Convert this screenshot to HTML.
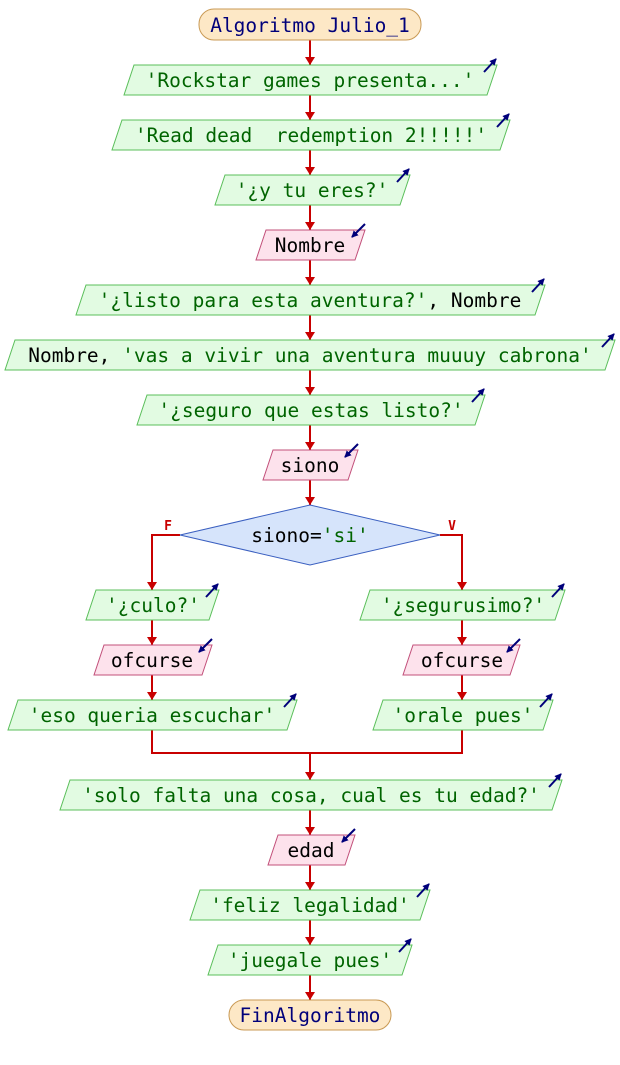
<!DOCTYPE html>
<html><head><meta charset="utf-8"><style>
html,body{margin:0;padding:0;background:#fff;width:620px;height:1065px;overflow:hidden}
text{font-family:"DejaVu Sans Mono","Liberation Mono",monospace;font-size:19.5px;text-anchor:middle}
.s{fill:#006400}.v{fill:#000}.k{fill:#00007a}
.o{fill:#e2fbe2;stroke:#5bbf5b;stroke-width:1}
.i{fill:#fde2ec;stroke:#c2507a;stroke-width:1}
.l{stroke:#c80000;stroke-width:2;fill:none}
.h{fill:#c80000}
.ic{stroke:#00007a;stroke-width:2;fill:none}
</style></head><body>
<svg width="620" height="1065" xmlns="http://www.w3.org/2000/svg">
<defs>
<marker id="ah" markerWidth="7" markerHeight="7" refX="6" refY="3.5" orient="auto" markerUnits="userSpaceOnUse"><path d="M0,0 L7,3.5 L0,7 z" fill="#00007a"/></marker>
</defs>
<path class="l" d="M310,40V505 M310,753V1000"/>
<path class="l" d="M180,535H152V590 M440,535H462V590 M152,620V700 M462,620V700 M152,730V753H462V730"/>
<g class="h">
<path d="M305,57h10l-5,8z"/><path d="M305,112h10l-5,8z"/><path d="M305,167h10l-5,8z"/><path d="M305,222h10l-5,8z"/><path d="M305,277h10l-5,8z"/><path d="M305,332h10l-5,8z"/><path d="M305,387h10l-5,8z"/><path d="M305,442h10l-5,8z"/><path d="M305,497h10l-5,8z"/>
<path d="M147,582h10l-5,8z"/><path d="M147,637h10l-5,8z"/><path d="M147,692h10l-5,8z"/>
<path d="M457,582h10l-5,8z"/><path d="M457,637h10l-5,8z"/><path d="M457,692h10l-5,8z"/>
<path d="M305,772h10l-5,8z"/><path d="M305,827h10l-5,8z"/><path d="M305,882h10l-5,8z"/><path d="M305,937h10l-5,8z"/><path d="M305,992h10l-5,8z"/>
</g>
<text x="168" y="530" style="font-size:13px;font-weight:bold;fill:#c80000">F</text>
<text x="452" y="530" style="font-size:13px;font-weight:bold;fill:#c80000">V</text>
<rect x="199" y="9" width="222" height="31" rx="15" fill="#fde8c6" stroke="#c99a55"/>
<text x="310" y="32" class="k">Algoritmo Julio_1</text>
<polygon class="o" points="134,65 497,65 487,95 124,95"/><text x="310" y="87" class="s">'Rockstar games presenta...'</text>
<path class="ic" d="M484,72L496,59" marker-end="url(#ah)"/>
<polygon class="o" points="122,120 510,120 500,150 112,150"/><text x="311" y="142" class="s" xml:space="preserve">'Read dead  redemption 2!!!!!'</text>
<path class="ic" d="M497,127L509,114" marker-end="url(#ah)"/>
<polygon class="o" points="225,175 410,175 400,205 215,205"/><text x="312" y="197" class="s">'¿y tu eres?'</text>
<path class="ic" d="M397,182L409,169" marker-end="url(#ah)"/>
<polygon class="i" points="266,230 365,230 355,260 256,260"/><text x="310" y="252" class="v">Nombre</text>
<path class="ic" d="M365,224L352,237" marker-end="url(#ah)"/>
<polygon class="o" points="86,285 545,285 535,315 76,315"/><text x="310" y="307"><tspan class="s">'¿listo para esta aventura?'</tspan><tspan class="v">, Nombre</tspan></text>
<path class="ic" d="M532,292L544,279" marker-end="url(#ah)"/>
<polygon class="o" points="15,340 615,340 605,370 5,370"/><text x="310" y="362"><tspan class="v">Nombre, </tspan><tspan class="s">'vas a vivir una aventura muuuy cabrona'</tspan></text>
<path class="ic" d="M602,347L614,334" marker-end="url(#ah)"/>
<polygon class="o" points="147,395 485,395 475,425 137,425"/><text x="311" y="417" class="s">'¿seguro que estas listo?'</text>
<path class="ic" d="M472,402L484,389" marker-end="url(#ah)"/>
<polygon class="i" points="273,450 358,450 348,480 263,480"/><text x="310" y="472" class="v">siono</text>
<path class="ic" d="M358,444L345,457" marker-end="url(#ah)"/>
<polygon points="180,535 310,505 440,535 310,565" fill="#d6e4fb" stroke="#3a5fc0"/>
<text x="310" y="542"><tspan class="v">siono=</tspan><tspan class="s">'si'</tspan></text>
<polygon class="o" points="96,590 219,590 209,620 86,620"/><text x="153" y="612" class="s">'¿culo?'</text>
<path class="ic" d="M206,597L218,584" marker-end="url(#ah)"/>
<polygon class="i" points="104,645 212,645 202,675 94,675"/><text x="152" y="667" class="v">ofcurse</text>
<path class="ic" d="M212,639L199,652" marker-end="url(#ah)"/>
<polygon class="o" points="18,700 297,700 287,730 8,730"/><text x="152" y="722" class="s">'eso queria escuchar'</text>
<path class="ic" d="M284,707L296,694" marker-end="url(#ah)"/>
<polygon class="o" points="370,590 565,590 555,620 360,620"/><text x="463" y="612" class="s">'¿segurusimo?'</text>
<path class="ic" d="M552,597L564,584" marker-end="url(#ah)"/>
<polygon class="i" points="413,645 520,645 510,675 403,675"/><text x="462" y="667" class="v">ofcurse</text>
<path class="ic" d="M520,639L507,652" marker-end="url(#ah)"/>
<polygon class="o" points="383,700 553,700 543,730 373,730"/><text x="463" y="722" class="s">'orale pues'</text>
<path class="ic" d="M540,707L552,694" marker-end="url(#ah)"/>
<polygon class="o" points="70,780 562,780 552,810 60,810"/><text x="311" y="802" class="s">'solo falta una cosa, cual es tu edad?'</text>
<path class="ic" d="M549,787L561,774" marker-end="url(#ah)"/>
<polygon class="i" points="278,835 355,835 345,865 268,865"/><text x="311" y="857" class="v">edad</text>
<path class="ic" d="M355,829L342,842" marker-end="url(#ah)"/>
<polygon class="o" points="200,890 430,890 420,920 190,920"/><text x="310" y="912" class="s">'feliz legalidad'</text>
<path class="ic" d="M417,897L429,884" marker-end="url(#ah)"/>
<polygon class="o" points="218,945 412,945 402,975 208,975"/><text x="310" y="967" class="s">'juegale pues'</text>
<path class="ic" d="M399,952L411,939" marker-end="url(#ah)"/>
<rect x="229" y="1000" width="162" height="30" rx="15" fill="#fde8c6" stroke="#c99a55"/>
<text x="310" y="1022" class="k">FinAlgoritmo</text>
</svg>
</body></html>
